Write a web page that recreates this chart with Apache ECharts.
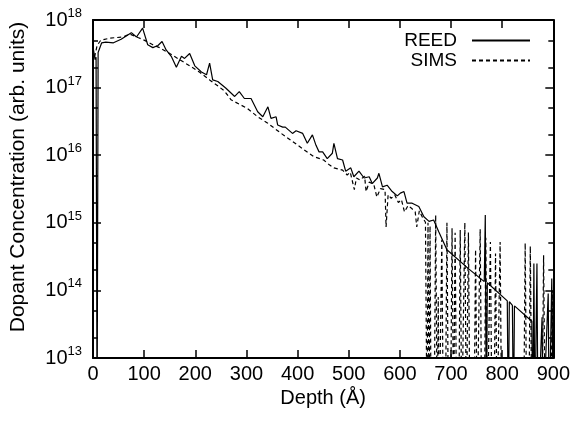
<!DOCTYPE html>
<html>
<head>
<meta charset="utf-8">
<script src="https://cdn.jsdelivr.net/npm/echarts@6/dist/echarts.min.js"></script>
<style>
html,body{margin:0;padding:0;background:#fff;}
#chart{width:573px;height:424px;}
</style>
</head>
<body>
<div id="chart"></div>
<script>
// value used for points that fall below the bottom of the log axis
const FLOOR = 1e12;

const reedDepth = [0, 4, 6, 8, 10, 17, 25, 40, 55, 75, 85, 97, 107, 117, 127, 135, 143, 153, 163, 173, 179, 189, 199, 212, 222, 228, 234, 244, 260, 277, 286, 296, 309, 322, 332, 342, 348, 358, 361, 371, 376, 390, 397, 410, 419, 429, 436, 442, 449, 458, 468, 471, 478, 488, 494, 504, 510, 520, 530, 540, 546, 556, 559, 566, 575, 585, 595, 601, 608, 614, 624, 637, 647, 657, 666, 676, 692, 734, 765, 767, 769, 771, 810, 812, 814, 820, 822, 824, 858, 860, 862, 864, 868, 870, 878, 880, 890, 892, 897, 900];
const reedConc = [4.0e17, 2.6e17, 2.8e17, FLOOR, 3.3e17, 4.6e17, 4.7e17, 4.6e17, 5.2e17, 6.5e17, 5.6e17, 7.6e17, 4.3e17, 3.9e17, 4.2e17, 4.8e17, 3.6e17, 2.9e17, 2.0e17, 2.9e17, 2.7e17, 3.2e17, 2.1e17, 1.7e17, 1.55e17, 2.3e17, 1.3e17, 1.23e17, 9.8e16, 7.4e16, 8.7e16, 6.9e16, 6.9e16, 4.4e16, 3.7e16, 5.2e16, 3.5e16, 3.7e16, 2.8e16, 2.6e16, 2.6e16, 2.1e16, 2.3e16, 2.1e16, 1.5e16, 2.0e16, 1.4e16, 1.12e16, 1.12e16, 8.9e15, 1.07e16, 1.5e16, 8.9e15, 8.5e15, 5.8e15, 6.5e15, 4.8e15, 5.8e15, 4.6e15, 4.8e15, 3.8e15, 4.6e15, 5.4e15, 3.4e15, 3.6e15, 2.9e15, 2.5e15, 2.75e15, 2.9e15, 1.95e15, 1.95e15, 1.74e15, 1.23e15, 1.05e15, 1.1e15, 7.4e14, 4.0e14, 2.1e14, 1.35e14, 1.3e15, FLOOR, 1.3e14, 7.0e13, FLOOR, 6.8e13, 6.0e13, FLOOR, 5.9e13, 3.5e13, FLOOR, 2.5e14, FLOOR, 2.5e14, FLOOR, 4.0e13, FLOOR, 9.0e13, FLOOR, 1.5e14, FLOOR];

const simsDepth = [0, 3, 8, 15, 33, 58, 72, 88, 101, 117, 130, 150, 169, 189, 208, 228, 247, 257, 270, 302, 322, 341, 368, 387, 413, 432, 451, 462, 471, 488, 491, 497, 503, 511, 515, 522, 531, 534, 540, 549, 555, 562, 571, 573, 577, 583, 590, 597, 603, 609, 616, 622, 630, 633, 638, 645, 650, 653, 655, 657, 659, 661, 663, 667, 670, 673, 675, 677, 679, 682, 685, 689, 692, 695, 699, 702, 705, 706, 708, 711, 715, 718, 721, 724, 727, 730, 731, 734, 737, 745, 748, 751, 754, 757, 760, 765, 768, 771, 774, 777, 780, 784, 787, 790, 793, 796, 799, 842, 845, 848, 852, 855, 858, 878, 881, 884, 895, 898, 900];
const simsConc = [3.5e17, 2.8e17, 4.2e17, 5.0e17, 5.4e17, 5.6e17, 6.2e17, 5.5e17, 5.0e17, 4.3e17, 3.9e17, 3.2e17, 2.6e17, 2.1e17, 1.7e17, 1.3e17, 1.02e17, 8.9e16, 6.6e16, 4.9e16, 3.7e16, 3.0e16, 2.1e16, 1.66e16, 1.2e16, 9.5e15, 8.5e15, 7.2e15, 6.5e15, 6.0e15, 6.3e15, 5.1e15, 5.6e15, 3.1e15, 4.6e15, 4.3e15, 4.9e15, 2.9e15, 4.0e15, 3.7e15, 2.4e15, 3.2e15, 3.1e15, 8.7e14, 2.6e15, 2.3e15, 2.6e15, 2.0e15, 2.2e15, 1.45e15, 1.8e15, 1.66e15, 1.45e15, 8.7e14, 1.5e15, 1.17e15, 1.02e15, FLOOR, 1.0e15, FLOOR, 9.0e14, FLOOR, FLOOR, FLOOR, 1.3e15, FLOOR, 8.0e13, FLOOR, FLOOR, 5.6e14, FLOOR, FLOOR, 1.0e15, FLOOR, FLOOR, 8.3e14, FLOOR, FLOOR, 7.1e14, FLOOR, FLOOR, 7.8e14, FLOOR, FLOOR, 1.0e15, FLOOR, FLOOR, 7.2e14, FLOOR, FLOOR, 4.0e14, FLOOR, FLOOR, 8.0e14, FLOOR, FLOOR, 6.0e14, FLOOR, FLOOR, 5.2e14, FLOOR, FLOOR, 3.5e14, FLOOR, FLOOR, 5.2e14, FLOOR, FLOOR, 5.0e14, FLOOR, FLOOR, 4.5e14, FLOOR, FLOOR, 3.3e14, FLOOR, FLOOR, 1.0e14, FLOOR];

const xTicks = [0, 100, 200, 300, 400, 500, 600, 700, 800, 900];
const yExponents = [13, 14, 15, 16, 17, 18];
const yMinorTicks = [2e13, 5e13, 2e14, 5e14, 2e15, 5e15, 2e16, 5e16, 2e17, 5e17];

const FONT = 'Liberation Sans, Arial, Helvetica, sans-serif';
const zip = (a, b) => a.map((v, i) => [v, b[i]]);

const yMin = Math.pow(10, yExponents[0]);
const yMax = Math.pow(10, yExponents[yExponents.length - 1]);
const yMajor = yExponents.map(e => Math.pow(10, e));

const chart = echarts.init(document.getElementById('chart'), null, {renderer: 'canvas'});

const axisLineStyle = {color: '#000', width: 2};
const tickStyle = {color: '#000', width: 1.5};

function logAxis(pos, major, showLabel, extra) {
  return Object.assign({
    type: 'log', logBase: 10, min: yMin, max: yMax, position: pos,
    axisLine: {show: major, lineStyle: axisLineStyle},
    axisTick: {show: true, inside: true, length: major ? 8 : 5, lineStyle: tickStyle,
               customValues: major ? yMajor : yMinorTicks},
    axisLabel: {show: showLabel},
    splitLine: {show: false},
    minorTick: {show: false}
  }, extra || {});
}

function expLabel(v) {
  const e = Math.round(Math.log10(v));
  const i = yExponents.indexOf(e);
  return i < 0 ? '' : '{b|10}{s|' + yExponents[i] + '}';
}

const option = {
  animation: false,
  backgroundColor: '#fff',
  grid: {left: 93, right: 18, top: 20, bottom: 66, containLabel: false},
  legend: [
    {data: ['REED'], right: 42, top: 31, orient: 'vertical', align: 'right', padding: 0,
     itemWidth: 58, itemHeight: 18, itemStyle: {opacity: 0},
     textStyle: {fontFamily: FONT, fontSize: 19, color: '#000', padding: [0, 10, 0, 0]}},
    {data: ['SIMS'], right: 42, top: 51, orient: 'vertical', align: 'right', padding: 0,
     itemWidth: 58, itemHeight: 18, itemStyle: {opacity: 0},
     textStyle: {fontFamily: FONT, fontSize: 19, color: '#000', padding: [0, 10, 0, 0]}}
  ],
  xAxis: [
    {type: 'value', min: xTicks[0], max: xTicks[xTicks.length - 1], interval: 100, position: 'bottom',
     axisLine: {show: true, lineStyle: axisLineStyle},
     axisTick: {show: true, inside: true, length: 8, lineStyle: tickStyle},
     axisLabel: {show: true, margin: 6, fontFamily: FONT, fontSize: 20, color: '#000',
                 showMinLabel: true, showMaxLabel: true,
                 formatter: v => String(xTicks[xTicks.indexOf(v)])},
     splitLine: {show: false},
     name: 'Depth (Å)', nameLocation: 'middle', nameGap: 25,
     nameTextStyle: {fontFamily: FONT, fontSize: 20, color: '#000', verticalAlign: 'top'}},
    {type: 'value', min: xTicks[0], max: xTicks[xTicks.length - 1], interval: 100, position: 'top',
     axisLine: {show: true, lineStyle: axisLineStyle},
     axisTick: {show: true, inside: true, length: 8, lineStyle: tickStyle},
     axisLabel: {show: false}, splitLine: {show: false}}
  ],
  yAxis: [
    logAxis('left', true, true, {
      axisLabel: {show: true, margin: 11, fontFamily: FONT, color: '#000',
        showMinLabel: true, showMaxLabel: true, hideOverlap: false,
        formatter: expLabel,
        rich: {
          b: {fontFamily: FONT, fontSize: 20, color: '#000', lineHeight: 26, verticalAlign: 'middle'},
          s: {fontFamily: FONT, fontSize: 13, color: '#000', lineHeight: 13, verticalAlign: 'top'}
        }},
      name: 'Dopant Concentration (arb. units)', nameLocation: 'middle', nameGap: 64,
      nameTextStyle: {fontFamily: FONT, fontSize: 21, color: '#000', padding: [0, 0, 0, 24]}
    }),
    logAxis('left', false, false),
    logAxis('right', true, false),
    logAxis('right', false, false)
  ],
  series: [
    {name: 'REED', type: 'line', xAxisIndex: 0, yAxisIndex: 0, data: zip(reedDepth, reedConc),
     symbol: 'none', showSymbol: false, clip: true,
     lineStyle: {color: '#000', width: 1.2, type: 'solid'}, itemStyle: {color: '#000'}},
    {name: 'SIMS', type: 'line', xAxisIndex: 0, yAxisIndex: 0, data: zip(simsDepth, simsConc),
     symbol: 'none', showSymbol: false, clip: true,
     lineStyle: {color: '#000', width: 1.2, type: [4, 3]}, itemStyle: {color: '#000'}}
  ]
};
chart.setOption(option);
</script>
</body>
</html>
